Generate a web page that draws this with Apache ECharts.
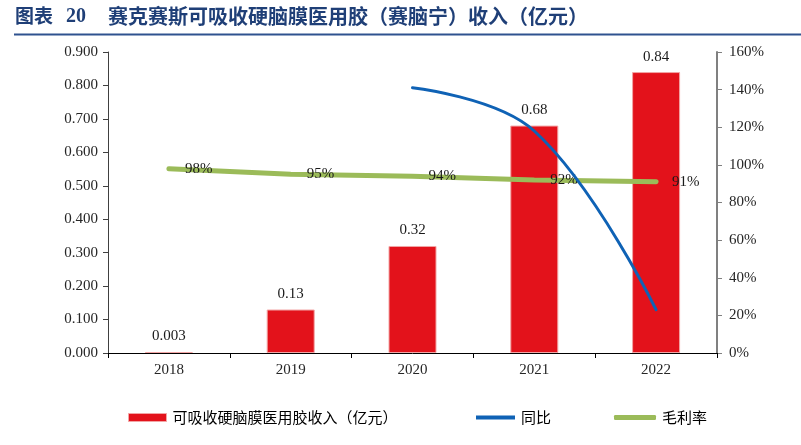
<!DOCTYPE html>
<html>
<head>
<meta charset="utf-8">
<script src="https://cdn.jsdelivr.net/npm/echarts@6/dist/echarts.min.js"></script>
<style>
html,body{margin:0;padding:0;background:#fff;}
#c{width:801px;height:445px;}
</style>
</head>
<body>
<div id="c"></div>
<script>
var categories = ['2018', '2019', '2020', '2021', '2022'];
var revenue = [0.003, 0.13, 0.32, 0.68, 0.84];
var yoy = ['-', '-', 141, 118, 23];
var grossMargin = [98, 95, 94, 92, 91];
var leftTicks = { min: 0, max: 0.9, interval: 0.1 };
var rightTicks = { min: 0, max: 160, interval: 20 };
var names = ['可吸收硬脑膜医用胶收入（亿元）', '同比', '毛利率'];

var serif = 'Liberation Serif';
var cjk = 'Noto Sans CJK SC';
var chart = echarts.init(document.getElementById('c'), null, { renderer: 'canvas' });

function legendAt(left, name, opts) {
  return Object.assign({
    left: left, top: 405,
    itemWidth: 38, itemHeight: 8, itemGap: 10,
    textStyle: { fontFamily: cjk, fontSize: 15, color: '#000', padding: [0, 0, 0, 1] },
    data: [name]
  }, opts || {});
}

chart.setOption({
  animation: false,
  backgroundColor: '#fff',
  graphic: [
    { type: 'text', left: 15, top: 6, style: { text: '图表', fontFamily: cjk, fontWeight: 'bold', fontSize: 19, fill: '#1F3F77' } },
    { type: 'text', left: 66, top: 7, style: { text: '20', fontFamily: serif, fontWeight: 'bold', fontSize: 20, fill: '#1F3F77' } },
    { type: 'text', left: 108, top: 6, style: { text: '赛克赛斯可吸收硬脑膜医用胶（赛脑宁）收入（亿元）', fontFamily: cjk, fontWeight: 'bold', fontSize: 20, fill: '#1F3F77' } },
    { type: 'rect', shape: { x: 14, y: 33.5, width: 787, height: 2 }, style: { fill: '#2F528F' } }
  ],
  legend: [
    legendAt(123, names[0], { icon: 'rect', itemStyle: { color: '#E3121B', borderColor: '#F2A5A5', borderWidth: 1 } }),
    legendAt(471, names[1], { icon: 'rect', itemWidth: 39, itemHeight: 4, itemStyle: { color: '#0F62B5' } }),
    legendAt(609, names[2], { icon: 'roundRect', itemWidth: 42, itemHeight: 5, itemStyle: { color: '#9BBB59', opacity: 1 } })
  ],
  grid: { left: 108, right: 84, top: 52, bottom: 92, containLabel: false },
  xAxis: {
    type: 'category',
    data: categories,
    boundaryGap: true,
    axisLine: { lineStyle: { color: '#000', width: 1 } },
    axisTick: { show: true, length: 5, alignWithLabel: false, lineStyle: { color: '#000' } },
    axisLabel: { fontFamily: serif, fontSize: 15, color: '#262626', margin: 10 },
    splitLine: { show: false }
  },
  yAxis: [
    {
      type: 'value', min: leftTicks.min, max: leftTicks.max, interval: leftTicks.interval,
      axisLine: { show: true, lineStyle: { color: '#404040', width: 1 } },
      axisTick: { show: true, length: 5, lineStyle: { color: '#404040' } },
      axisLabel: { fontFamily: serif, fontSize: 15, color: '#262626', margin: 10, formatter: function (v) { return v.toFixed(3); } },
      splitLine: { show: false }
    },
    {
      type: 'value', min: rightTicks.min, max: rightTicks.max, interval: rightTicks.interval,
      position: 'right',
      axisLine: { show: true, lineStyle: { color: '#808080', width: 2 } },
      axisTick: { show: true, length: 5, lineStyle: { color: '#808080' } },
      axisLabel: { fontFamily: serif, fontSize: 15, color: '#262626', margin: 12, formatter: '{value}%' },
      splitLine: { show: false }
    }
  ],
  series: [
    {
      name: names[0], type: 'bar', data: revenue, barWidth: 48, z: 1,
      itemStyle: { color: '#E3121B', borderColor: '#F2A5A5', borderWidth: 1 },
      label: { show: true, position: 'top', distance: 8, fontFamily: serif, fontSize: 15, color: '#1a1a1a',
        formatter: function (p) { return String(p.value); } }
    },
    {
      name: names[2], type: 'line', yAxisIndex: 1, data: grossMargin, z: 3,
      symbol: 'circle', symbolSize: 2, showSymbol: true,
      lineStyle: { color: '#9BBB59', width: 5, cap: 'round' },
      itemStyle: { color: '#9BBB59' },
      label: { show: true, position: 'right', distance: 15, fontFamily: serif, fontSize: 15, color: '#1a1a1a', formatter: '{c}%' },
      labelLayout: { hideOverlap: false }
    },
    {
      name: names[1], type: 'line', yAxisIndex: 1, data: yoy, z: 4,
      symbol: 'none', showSymbol: false, smooth: 0.4,
      lineStyle: { color: '#0F62B5', width: 3, cap: 'round' },
      itemStyle: { color: '#0F62B5' }
    }
  ]
});
</script>
</body>
</html>
